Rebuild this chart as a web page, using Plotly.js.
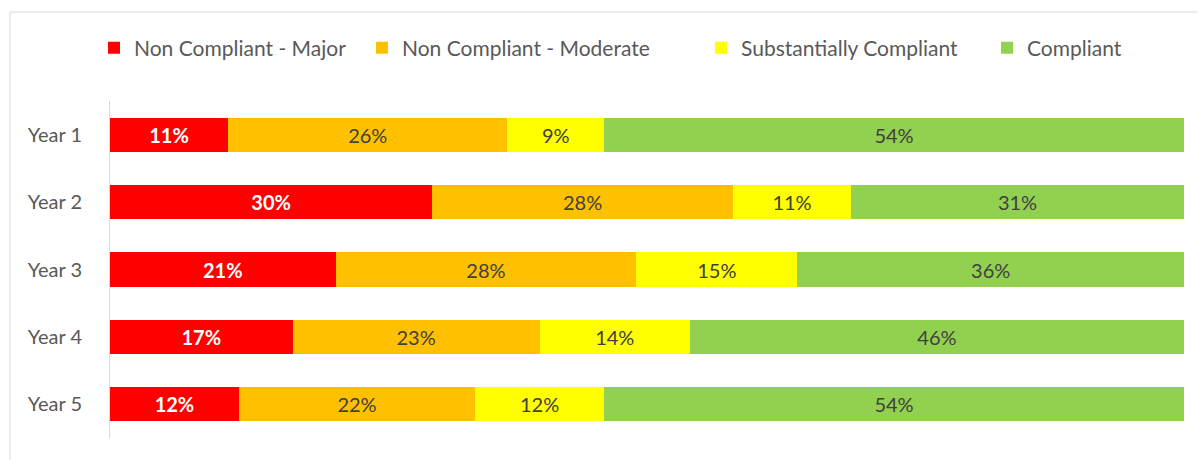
<!DOCTYPE html>
<html>
<head>
<meta charset="utf-8">
<script src="https://cdn.plot.ly/plotly-3.0.1.min.js"></script>
<style>html,body{margin:0;padding:0;background:#fff;}#chart{width:1200px;height:460px;}</style>
</head>
<body>
<div id="chart"></div>
<script>
const years = ["Year 1", "Year 2", "Year 3", "Year 4", "Year 5"];
const seriesNames = ["Non Compliant - Major", "Non Compliant - Moderate", "Substantially Compliant", "Compliant"];
const major = [11, 30, 21, 17, 12];
const moderate = [26, 28, 28, 23, 22];
const substantial = [9, 11, 15, 14, 12];
const compliant = [54, 31, 36, 46, 54];
const colors = ["#FF0000", "#FFC000", "#FFFF00", "#92D050"];
const labelColors = ["#FFFFFF", "#404040", "#404040", "#404040"];

const FONT = "Lato, 'Open Sans', sans-serif";
const legendIds = ["legend", "legend2", "legend3", "legend4"];
const legendX = [-0.0149, 0.2346, 0.5503, 0.8166];

const allValues = [major, moderate, substantial, compliant];
const traces = allValues.map((vals, i) => ({
  type: "bar",
  orientation: "h",
  name: seriesNames[i],
  legend: legendIds[i],
  y: years,
  x: vals,
  text: vals.map(v => v + "%"),
  textposition: "inside",
  insidetextanchor: "middle",
  textangle: 0,
  constraintext: "none",
  textfont: {family: FONT, size: 20, color: labelColors[i], weight: i === 0 ? "bold" : "normal"},
  marker: {color: colors[i], line: {width: 0}},
  hoverinfo: "skip"
}));

const layout = {
  width: 1200, height: 460,
  barmode: "stack",
  bargap: 0.49,
  margin: {l: 110, r: 16, t: 101, b: 22},
  paper_bgcolor: "#ffffff",
  plot_bgcolor: "#ffffff",
  font: {family: FONT, color: "#595959", size: 20},
  showlegend: true,
  xaxis: {
    range: [0, 100],
    showgrid: false, zeroline: false, showticklabels: false, ticks: "",
    showline: false, fixedrange: true
  },
  yaxis: {
    autorange: "reversed",
    showgrid: false, zeroline: false,
    showline: true, linecolor: "#D9D9D9", linewidth: 1,
    ticks: "", ticklen: 0, ticklabelstandoff: 23,
    tickfont: {family: FONT, size: 20, color: "#595959"},
    fixedrange: true
  },
  shapes: [
    {type: "line", xref: "paper", yref: "paper", x0: -0.0931, x1: 1.013, y0: 1.264, y1: 1.264, line: {color: "#D9D9D9", width: 1}},
    {type: "line", xref: "paper", yref: "paper", x0: -0.0931, x1: -0.0931, y0: 1.264, y1: -0.07, line: {color: "#D9D9D9", width: 1}}
  ]
};
legendIds.forEach((id, i) => {
  layout[id] = {
    orientation: "h",
    x: legendX[i], xanchor: "left",
    y: 1.157, yanchor: "middle",
    font: {family: FONT, size: 21, color: "#595959"},
    itemwidth: 30,
    bgcolor: "rgba(0,0,0,0)"
  };
});

Plotly.newPlot("chart", traces, layout, {displayModeBar: false, staticPlot: true});
</script>
</body>
</html>
